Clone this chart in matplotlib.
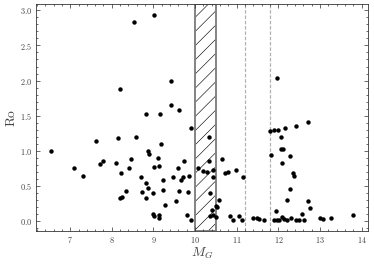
import matplotlib
matplotlib.use('Agg')
import matplotlib.pyplot as plt
from matplotlib.ticker import MultipleLocator, FuncFormatter

# style: serif (Computer Modern), ticks in on all sides
plt.rcParams['font.family'] = 'serif'
plt.rcParams['font.serif'] = ['cmr10', 'DejaVu Serif']
plt.rcParams['mathtext.fontset'] = 'cm'
plt.rcParams['axes.unicode_minus'] = False
plt.rcParams['axes.formatter.use_mathtext'] = True
plt.rcParams['hatch.linewidth'] = 0.5

# data
mg = [6.54, 7.10, 7.31, 7.62, 7.71, 7.80, 8.16, 8.11, 8.21, 8.20, 8.24, 8.34,
      8.41, 8.47, 8.58, 8.69, 8.72, 8.82, 8.83, 8.86, 8.87, 8.89, 8.99, 8.98,
      9.02, 9.01, 9.13, 9.14, 9.14, 9.11, 9.18, 9.22, 9.24, 9.28, 9.47, 9.55,
      9.59, 9.61, 9.66, 9.71, 9.74, 9.80, 9.84, 9.85, 9.89, 9.90,
      8.20, 8.53, 8.82, 9.02, 9.15, 9.43, 9.42, 9.61,
      10.33, 10.06, 10.18, 10.29, 10.34, 10.44, 10.43, 10.36, 10.36, 10.40,
      10.42, 10.49, 10.53, 10.57, 10.50, 10.64, 10.71, 10.80, 10.98, 11.14,
      10.84, 10.90, 11.06, 11.12, 11.38, 11.48, 11.54, 11.66,
      11.79, 11.90, 11.99, 12.15, 12.41, 12.72, 11.96, 11.82, 12.05, 12.06,
      12.11, 12.08, 12.27, 12.34, 12.37, 12.27, 12.21, 11.94, 11.90, 11.96,
      12.02, 12.08, 12.14, 12.21, 12.30, 12.42, 12.50, 12.57, 12.62, 12.71,
      12.75, 12.99, 13.07, 13.25, 13.79]
ro = [0.99, 0.75, 0.64, 1.14, 0.81, 0.85, 1.18, 0.82, 0.69, 0.33, 0.34, 0.43,
      0.75, 0.88, 1.20, 0.62, 0.42, 0.33, 0.54, 0.47, 0.99, 0.95, 0.40, 0.10,
      0.07, 0.77, 0.08, 0.05, 0.78, 0.90, 1.09, 0.44, 0.58, 0.23, 0.63, 0.28,
      0.75, 0.43, 0.58, 0.62, 0.85, 0.08, 0.42, 0.64, 0.02, 1.33,
      1.88, 2.83, 1.53, 2.94, 1.53, 2.00, 1.65, 1.58,
      1.20, 0.76, 0.71, 0.70, 0.86, 0.73, 0.62, 0.40, 0.07, 0.16,
      0.09, 0.22, 0.20, 0.30, 0.06, 0.88, 0.68, 0.70, 0.73, 0.62,
      0.07, 0.01, 0.07, 0.01, 0.04, 0.04, 0.03, 0.02,
      1.28, 1.30, 1.29, 1.32, 1.35, 1.41, 2.03, 0.94, 1.19, 1.03,
      1.03, 0.83, 0.93, 0.69, 0.64, 0.45, 0.30, 0.14, 0.01, 0.01,
      0.01, 0.06, 0.03, 0.02, 0.04, 0.01, 0.01, 0.10, 0.02, 0.28,
      0.19, 0.04, 0.03, 0.04, 0.08]

band = (10.0, 10.5)
dashed_x = [11.2, 11.8]

fig = plt.figure(figsize=(374 / 85, 264 / 85), dpi=85)
ax = fig.add_axes([0.0963, 0.125, 0.8877, 0.8598])

# hatched band: black hatch, grey outline drawn separately
ax.axvspan(band[0], band[1], facecolor='none', edgecolor='black',
           hatch='//', linewidth=0, zorder=1)
ax.axvspan(band[0], band[1], facecolor='none', edgecolor='#808080',
           linewidth=1.6, zorder=1)
for xv in dashed_x:
    ax.axvline(xv, color='#b0b0b0', linestyle=(0, (3, 1.5)), linewidth=1.0, zorder=1)

ax.scatter(mg, ro, s=14, color='black', linewidths=0, zorder=3)

ax.set_xlim(6.18, 14.15)
ax.set_ylim(-0.142, 3.09)

ax.xaxis.set_major_locator(MultipleLocator(1))
ax.xaxis.set_minor_locator(MultipleLocator(0.2))
ax.yaxis.set_major_locator(MultipleLocator(0.5))
ax.yaxis.set_minor_locator(MultipleLocator(0.1))
ax.xaxis.set_major_formatter(FuncFormatter(lambda v, p: f'${v:.0f}$'))
ax.yaxis.set_major_formatter(FuncFormatter(lambda v, p: f'${v:.1f}$'))

ax.tick_params(which='both', direction='in', top=True, right=True,
               width=0.6, colors='#333333', labelcolor='#444444', labelsize=7)
ax.tick_params(which='major', length=3.5, pad=3)
ax.tick_params(which='minor', length=1.8)
for sp in ax.spines.values():
    sp.set_linewidth(0.7)
    sp.set_color('#333333')

ax.set_xlabel(r'$M_G$', fontsize=11.5, color='#444444', labelpad=1)
ax.set_ylabel(r'$\mathrm{Ro}$', fontsize=11.5, color='#444444', labelpad=2)

fig.savefig('out.png', dpi=85)
